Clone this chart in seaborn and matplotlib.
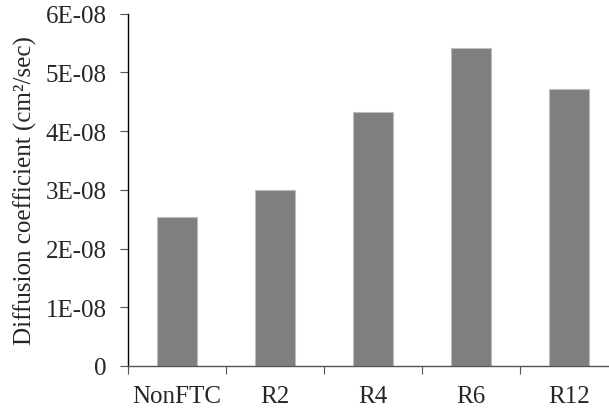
import matplotlib
matplotlib.use("Agg")
import matplotlib.pyplot as plt
import seaborn as sns
import pandas as pd

# Diffusion coefficient per freeze-thaw treatment
categories = ["NonFTC", "R2", "R4", "R6", "R12"]
diffusion = [2.54e-08, 3.00e-08, 4.32e-08, 5.42e-08, 4.71e-08]
ytick_values = [0, 1e-08, 2e-08, 3e-08, 4e-08, 5e-08, 6e-08]
ytick_labels = ["0", "1E-08", "2E-08", "3E-08", "4E-08", "5E-08", "6E-08"]

df = pd.DataFrame({"group": categories, "D": diffusion})

sns.set_theme(style="white")
FONT = "Liberation Serif"
plt.rcParams["font.family"] = [FONT, "DejaVu Serif"]

fig = plt.figure(figsize=(6.09, 4.10), dpi=100)
ax = fig.add_axes([128 / 609, (410 - 367) / 410, (618 - 128) / 609, (367 - 14.7) / 410])

sns.barplot(data=df, x="group", y="D", color="#7f7f7f", saturation=1,
            width=0.4, edgecolor="#bdbdbd", linewidth=0.8, ax=ax)

ax.set_xlim(-0.5, 4.5)
ax.set_ylim(0, 6e-08)
ax.set_yticks(ytick_values)
ax.set_yticklabels(ytick_labels, fontsize=18, family=FONT)
ax.set_xticks([i - 0.5 for i in range(len(categories))], minor=False)
ax.set_xticklabels([])
ax.set_xticks(range(len(categories)), minor=True)
ax.set_xticklabels(categories, minor=True, fontsize=18, family=FONT)
ax.tick_params(axis="x", which="major", bottom=True, direction="out",
               length=6, width=0.8, color="#555555")
ax.tick_params(axis="x", which="minor", bottom=True, length=0, pad=14)
ax.tick_params(axis="y", left=True, direction="out", length=5.5, width=0.8,
               color="#555555", pad=10)

ax.set_xlabel("")
ax.set_ylabel("Diffusion coefficient (cm²/sec)", fontsize=18, family=FONT, labelpad=6)

for side in ["top", "right"]:
    ax.spines[side].set_visible(False)
ax.spines["left"].set_color("black")
ax.spines["left"].set_linewidth(1.0)
ax.spines["bottom"].set_color("#555555")
ax.spines["bottom"].set_linewidth(1.0)

fig.savefig("out.png", dpi=100)
